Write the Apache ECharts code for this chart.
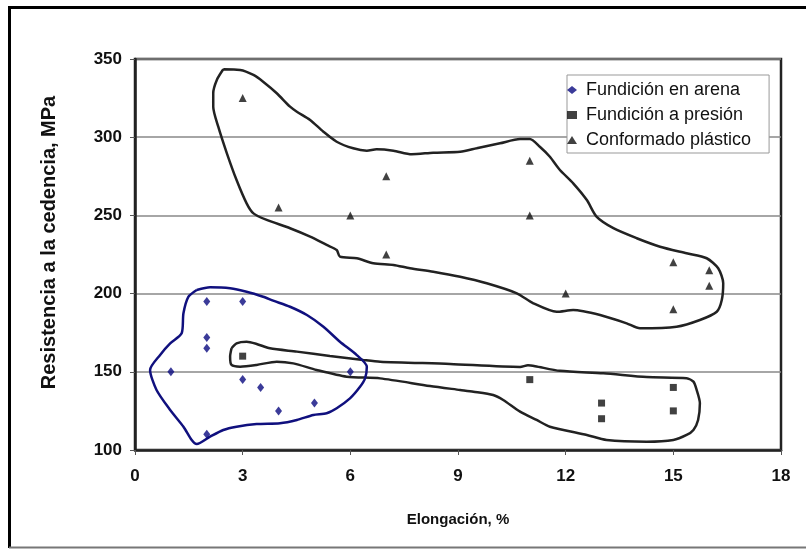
<!DOCTYPE html>
<html>
<head>
<meta charset="utf-8">
<script src="https://cdn.jsdelivr.net/npm/echarts@6/dist/echarts.min.js"></script>
<style>
  html, body { margin: 0; padding: 0; background: #fff; }
  #chart { width: 806px; height: 550px; }
</style>
</head>
<body>
<div id="chart"></div>
<script>
// Axis ticks
const xTicks = [0, 3, 6, 9, 12, 15, 18];
const yTicks = [100, 150, 200, 250, 300, 350];

// Measured points: [elongación %, resistencia a la cedencia MPa]
const arena = [
  [1, 150], [2, 195], [3, 195], [2, 172], [2, 165], [2, 110],
  [3, 145], [3.5, 140], [4, 125], [5, 130], [6, 150]
];
const presion = [
  [3, 160], [11, 145], [13, 130], [13, 120], [15, 140], [15, 125]
];
const conformado = [
  [3, 325], [4, 255], [6, 250], [7, 275], [7, 225], [11, 285],
  [11, 250], [12, 200], [15, 220], [15, 190], [16, 215], [16, 205]
];

// Hand-drawn envelopes around each process family (closed loops)
const contornoArena = [
  [1.72, 202.3], [2.09, 204.0], [2.65, 203.4], [3.11, 201.2], [3.57, 198.0],
  [3.85, 195.5], [4.32, 191.6], [4.79, 186.3], [5.25, 178.8], [5.71, 169.2],
  [6.18, 160.7], [6.46, 153.3], [6.41, 145.8], [6.27, 140.4], [5.99, 133.0],
  [5.62, 126.7], [5.34, 123.5], [4.97, 122.4], [4.51, 119.2], [4.04, 117.1],
  [3.39, 116.6], [2.83, 114.9], [2.46, 112.8], [2.09, 108.5], [1.72, 103.8],
  [1.58, 106.4], [1.35, 114.9], [0.98, 125.6], [0.60, 138.4], [0.42, 151.2],
  [0.70, 160.8], [0.98, 168.2], [1.30, 174.6], [1.35, 187.4], [1.49, 198.0],
  [1.72, 202.3]
];
const contornoPresion = [
  [2.69, 165.0], [2.83, 168.2], [3.11, 169.2], [3.39, 167.8], [3.76, 165.0],
  [4.51, 162.9], [5.43, 160.1], [6.36, 157.6], [6.83, 156.5], [8.78, 155.0],
  [10.73, 153.1], [10.95, 154.2], [11.15, 153.6], [11.84, 150.6], [13.05, 149.0],
  [14.26, 146.6], [15.37, 145.8], [15.56, 143.7], [15.65, 138.4], [15.74, 129.9],
  [15.69, 119.2], [15.56, 112.8], [15.37, 109.6], [15.0, 106.4], [14.26, 105.3],
  [13.14, 106.4], [12.59, 109.6], [11.56, 114.9], [11.19, 119.2], [10.73, 124.5],
  [10.26, 132.0], [9.98, 135.2], [9.43, 137.3], [9.06, 138.4], [8.22, 140.9],
  [6.83, 145.8], [5.90, 146.9], [5.06, 151.2], [4.41, 155.4], [3.95, 156.5],
  [3.39, 154.4], [2.93, 153.3], [2.69, 154.4], [2.65, 159.7], [2.69, 165.0]
];
const contornoConformado = [
  [2.46, 343.4], [2.93, 343.0], [3.30, 339.8], [3.57, 335.5], [3.95, 328.1],
  [4.32, 319.5], [4.51, 316.3], [4.88, 311.0], [5.25, 303.5], [5.62, 297.1],
  [6.08, 292.9], [6.46, 291.4], [6.73, 292.3], [7.20, 291.4], [7.71, 289.1],
  [8.31, 290.1], [9.06, 290.7], [9.52, 292.9], [10.17, 296.1], [10.73, 298.8],
  [11.0, 298.8], [11.28, 293.9], [11.56, 287.5], [11.84, 279.0], [12.21, 270.5],
  [12.59, 259.8], [12.86, 249.2], [13.33, 241.8], [13.98, 235.4], [14.63, 230.0],
  [15.37, 225.8], [15.93, 222.6], [16.25, 216.2], [16.39, 206.6], [16.35, 195.9],
  [16.21, 188.4], [15.74, 183.1], [15.09, 178.8], [14.07, 177.8], [13.70, 181.0],
  [12.96, 186.3], [12.21, 189.5], [11.75, 188.4], [11.10, 193.8], [10.64, 200.2],
  [9.80, 206.6], [9.06, 210.8], [8.31, 214.0], [7.66, 216.2], [7.20, 218.3],
  [6.64, 219.4], [6.18, 222.6], [5.71, 223.6], [5.62, 227.9], [5.34, 231.1],
  [4.88, 236.4], [4.32, 241.8], [3.67, 247.1], [3.30, 251.3], [3.11, 257.7],
  [2.83, 272.6], [2.56, 289.7], [2.32, 306.7], [2.18, 319.5], [2.18, 328.1],
  [2.28, 336.6], [2.46, 343.4]
];

const seriesNames = ['Fundición en arena', 'Fundición a presión', 'Conformado plástico'];

const FONT = '"Liberation Sans", Arial, sans-serif';
const chart = echarts.init(document.getElementById('chart'), null, { renderer: 'canvas' });

function envelope(name, data, color) {
  return {
    name: name,
    type: 'line',
    data: data,
    smooth: 0.25,
    symbol: 'none',
    silent: true,
    clip: false,
    z: 2,
    lineStyle: { color: color, width: 2.5 }
  };
}

chart.setOption({
  animation: false,
  backgroundColor: '#fff',
  textStyle: { fontFamily: FONT },
  graphic: [
    // outer frame
    { type: 'line', shape: { x1: 9.5, y1: 7.5, x2: 806, y2: 7.5 }, style: { stroke: '#000', lineWidth: 3 } },
    { type: 'line', shape: { x1: 9.5, y1: 6, x2: 9.5, y2: 548 }, style: { stroke: '#000', lineWidth: 3 } },
    { type: 'line', shape: { x1: 9, y1: 547.5, x2: 806, y2: 547.5 }, style: { stroke: '#777', lineWidth: 2 } }
  ],
  grid: {
    left: 135, right: 25, top: 59, bottom: 100,
    show: true, borderColor: '#222', borderWidth: 2.5, backgroundColor: '#fff'
  },
  legend: {
    data: seriesNames,
    orient: 'vertical',
    left: 567, top: 75,
    padding: [6, 18, 4, 0],
    itemGap: 7,
    itemWidth: 10, itemHeight: 8,
    backgroundColor: '#fff',
    borderColor: '#999', borderWidth: 1,
    textStyle: { fontFamily: FONT, fontSize: 18, color: '#111', padding: [0, 0, 0, 4] }
  },
  xAxis: {
    type: 'value',
    min: 0, max: 18, interval: 3,
    name: 'Elongación, %',
    nameLocation: 'middle',
    nameGap: 62,
    nameTextStyle: { fontFamily: FONT, fontSize: 15, fontWeight: 'bold', color: '#111' },
    axisLine: { show: true, onZero: false, lineStyle: { color: '#222', width: 2.5 } },
    axisTick: { show: true, length: 5, lineStyle: { color: '#555', width: 1 } },
    axisLabel: {
      fontFamily: FONT, fontSize: 17, fontWeight: 'bold', color: '#111', margin: 18,
      formatter: v => (xTicks.indexOf(v) >= 0 ? String(v) : '')
    },
    splitLine: { show: false }
  },
  yAxis: {
    type: 'value',
    min: 100, max: 350, interval: 50,
    name: 'Resistencia a la cedencia, MPa',
    nameLocation: 'middle',
    nameGap: 76,
    nameRotate: 90,
    nameTextStyle: { fontFamily: FONT, fontSize: 20, fontWeight: 'bold', color: '#111', padding: [0, 0, 0, 24] },
    axisLine: { show: true, onZero: false, lineStyle: { color: '#222', width: 2.5 } },
    axisTick: { show: true, length: 5, lineStyle: { color: '#555', width: 1 } },
    axisLabel: {
      fontFamily: FONT, fontSize: 17, fontWeight: 'bold', color: '#111', margin: 13,
      formatter: v => (yTicks.indexOf(v) >= 0 ? String(v) : '')
    },
    splitLine: { show: true, lineStyle: { color: '#888', width: 1.5 } }
  },
  series: [
    envelope('contorno conformado', contornoConformado, '#222'),
    envelope('contorno presión', contornoPresion, '#222'),
    envelope('contorno arena', contornoArena, '#10107e'),
    {
      name: seriesNames[0], type: 'scatter', data: arena, z: 5,
      symbol: 'diamond', symbolSize: [7, 9],
      itemStyle: { color: '#0a0a80' }
    },
    {
      name: seriesNames[1], type: 'scatter', data: presion, z: 5,
      symbol: 'rect', symbolSize: 7,
      itemStyle: { color: '#111' }
    },
    {
      name: seriesNames[2], type: 'scatter', data: conformado, z: 5,
      symbol: 'triangle', symbolSize: [8, 8],
      itemStyle: { color: '#111' }
    }
  ]
});
</script>
</body>
</html>
